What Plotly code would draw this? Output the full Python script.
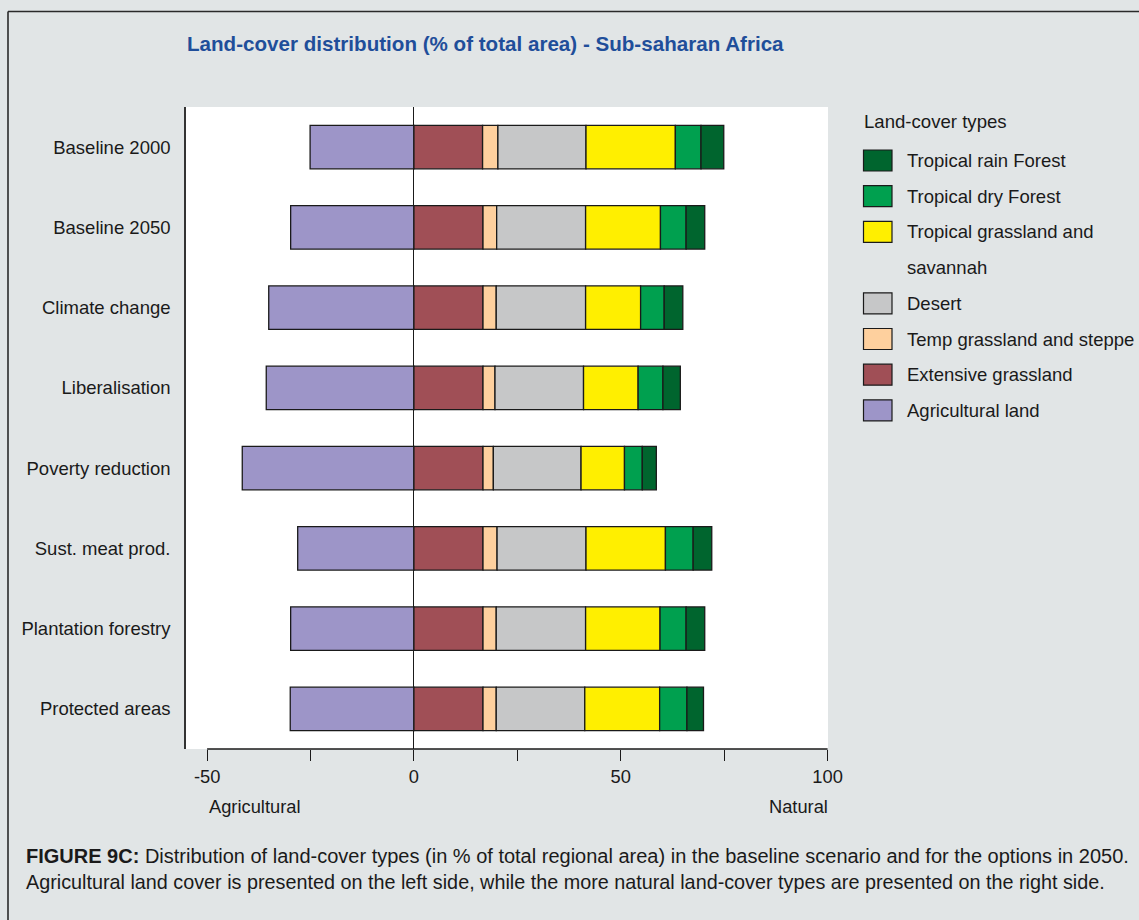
import plotly.graph_objects as go

categories = ["Baseline 2000", "Baseline 2050", "Climate change", "Liberalisation",
              "Poverty reduction", "Sust. meat prod.", "Plantation forestry", "Protected areas"]

agricultural_land = [-25.1, -29.8, -35.1, -35.7, -41.5, -28.1, -29.8, -29.9]
extensive_grassland = [16.6, 16.7, 16.7, 16.7, 16.7, 16.7, 16.7, 16.7]
temp_grassland = [3.7, 3.3, 3.2, 2.9, 2.5, 3.4, 3.2, 3.2]
desert = [21.3, 21.5, 21.6, 21.4, 21.2, 21.5, 21.6, 21.4]
tropical_grassland = [21.6, 18.1, 13.3, 13.2, 10.5, 19.2, 18.0, 18.1]
tropical_dry_forest = [6.2, 6.2, 5.7, 6.0, 4.3, 6.7, 6.3, 6.6]
tropical_rain_forest = [5.5, 4.5, 4.5, 4.2, 3.4, 4.5, 4.5, 4.0]

x_tickvals = [-50, -25, 0, 25, 50, 75, 100]
x_ticktext = ["-50", "", "0", "", "50", "", "100"]

series = [
    ("Agricultural land", agricultural_land, "#9d95c8"),
    ("Extensive grassland", extensive_grassland, "#a04f56"),
    ("Temp grassland and steppe", temp_grassland, "#fed09e"),
    ("Desert", desert, "#c6c7c8"),
    ("Tropical grassland and savannah", tropical_grassland, "#ffef00"),
    ("Tropical dry Forest", tropical_dry_forest, "#00a04f"),
    ("Tropical rain Forest", tropical_rain_forest, "#00652e"),
]

# legend (top to bottom), each entry: list of text lines, colour
legend_entries = [
    (["Tropical rain Forest"], "#00652e"),
    (["Tropical dry Forest"], "#00a04f"),
    (["Tropical grassland and", "savannah"], "#ffef00"),
    (["Desert"], "#c6c7c8"),
    (["Temp grassland and steppe"], "#fed09e"),
    (["Extensive grassland"], "#a04f56"),
    (["Agricultural land"], "#9d95c8"),
]

FONT = "Liberation Sans, Arial, sans-serif"
W, H = 1139, 920
L, R, T, B = 186, 1139 - 828, 107, 920 - 749
PW, PH = W - L - R, H - T - B


def px(xp):
    return (xp - L) / PW


def py(yp):
    return (H - B - yp) / PH


fig = go.Figure()
for name, vals, col in series:
    fig.add_trace(go.Bar(
        y=categories, x=vals, name=name, orientation="h",
        marker=dict(color=col, line=dict(color="#1a1a1a", width=1.3)),
        showlegend=False,
    ))

shapes = []
annotations = []

# x axis line from -50 to 100
shapes.append(dict(type="line", xref="x", yref="paper", x0=-50, x1=100, y0=0, y1=0,
                   line=dict(color="#1a1a1a", width=1.3)))
# outer frame
shapes.append(dict(type="line", xref="paper", yref="paper", x0=px(8), x1=px(1150),
                   y0=py(11.5), y1=py(11.5), line=dict(color="#2a2a2a", width=1.6)))
shapes.append(dict(type="line", xref="paper", yref="paper", x0=px(8), x1=px(8),
                   y0=py(11.5), y1=py(930), line=dict(color="#2a2a2a", width=1.6)))

# custom legend
annotations.append(dict(text="Land-cover types", xref="paper", yref="paper",
                        x=px(862), y=py(121), xanchor="left", yanchor="middle",
                        showarrow=False, font=dict(family=FONT, size=18.6, color="#1a1a1a")))
slot = 0
for lines, col in legend_entries:
    yc = 160.5 + 35.7 * slot
    shapes.append(dict(type="rect", xref="paper", yref="paper",
                       x0=px(863.5), x1=px(892), y0=py(yc - 10.5), y1=py(yc + 10.5),
                       fillcolor=col, line=dict(color="#1a1a1a", width=1.2)))
    for ln in lines:
        yl = 160.5 + 35.7 * slot
        annotations.append(dict(text=ln, xref="paper", yref="paper",
                                x=px(905), y=py(yl), xanchor="left", yanchor="middle",
                                showarrow=False,
                                font=dict(family=FONT, size=18.5, color="#1a1a1a")))
        slot += 1

# axis end labels
annotations.append(dict(text="Agricultural", xref="x", yref="paper", x=-50, y=py(806),
                        xanchor="left", yanchor="middle", showarrow=False,
                        font=dict(family=FONT, size=18.3, color="#1a1a1a")))
annotations.append(dict(text="Natural", xref="x", yref="paper", x=100, y=py(806),
                        xanchor="right", yanchor="middle", showarrow=False, xshift=2,
                        font=dict(family=FONT, size=18.3, color="#1a1a1a")))

# title
annotations.append(dict(text="<b>Land-cover distribution (% of total area) - Sub-saharan Africa</b>",
                        xref="paper", yref="paper", x=px(185), y=py(44),
                        xanchor="left", yanchor="middle", showarrow=False,
                        font=dict(family=FONT, size=20.6, color="#1f4e9a")))

# caption
cap1 = ("<b>FIGURE 9C:</b> Distribution of land-cover types (in % of total regional area) "
        "in the baseline scenario and for the options in 2050.")
cap2 = ("Agricultural land cover is presented on the left side, while the more natural "
        "land-cover types are presented on the right side.")
annotations.append(dict(text=cap1, xref="paper", yref="paper", x=px(24), y=py(856),
                        xanchor="left", yanchor="middle", showarrow=False,
                        font=dict(family=FONT, size=20, color="#1a1a1a")))
annotations.append(dict(text=cap2, xref="paper", yref="paper", x=px(24), y=py(882),
                        xanchor="left", yanchor="middle", showarrow=False,
                        font=dict(family=FONT, size=19.8, color="#1a1a1a")))

fig.update_layout(
    width=W, height=H,
    margin=dict(l=L, r=R, t=T, b=B, pad=0),
    paper_bgcolor="#e1e5e6",
    plot_bgcolor="#ffffff",
    barmode="relative",
    bargap=0.46,
    shapes=shapes,
    annotations=annotations,
    font=dict(family=FONT, size=18, color="#1a1a1a"),
    xaxis=dict(range=[-55.1, 100.1], tickvals=x_tickvals, ticktext=x_ticktext,
               ticks="outside", ticklen=11, tickwidth=1.3, tickcolor="#1a1a1a",
               showline=False, showgrid=False, zeroline=True,
               zerolinecolor="#1a1a1a", zerolinewidth=1.3,
               tickfont=dict(family=FONT, size=18.3, color="#1a1a1a")),
    yaxis=dict(autorange=False, range=[7.5, -0.5], type="category",
               showline=True, linecolor="#333333", linewidth=1.6,
               showgrid=False, ticks="", ticklabelstandoff=10,
               tickfont=dict(family=FONT, size=18.5, color="#1a1a1a")),
)

fig.write_html("out.html",
               config={"displayModeBar": False},
               post_script="document.body.style.margin='0px';"
                           "document.body.style.overflow='hidden';"
                           "document.body.style.background='#e1e5e6';")
